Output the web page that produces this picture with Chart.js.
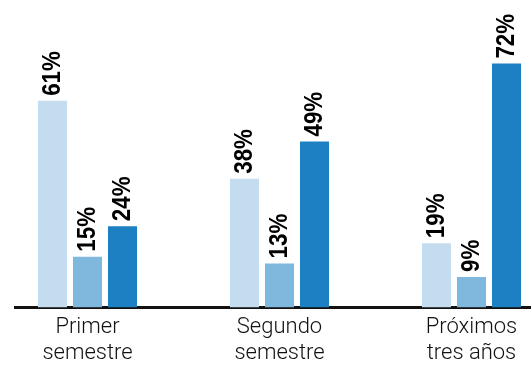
<!DOCTYPE html>
<html>
<head>
<meta charset="utf-8">
<script src="https://cdn.jsdelivr.net/npm/chart.js@4/dist/chart.umd.min.js"></script>
<style>
  html, body { margin: 0; padding: 0; background: #fff; }
  #wrap { width: 531px; height: 370px; position: relative; }
</style>
</head>
<body>
<div id="wrap"><canvas id="myChart"></canvas></div>
<script>
// categories (x axis, two lines each)
const categories = [['Primer', 'semestre'], ['Segundo', 'semestre'], ['Próximos', 'tres años']];

// three series, in percent
const seriesLight = [61, 38, 19];
const seriesMid = [15, 13, 9];
const seriesDark = [24, 49, 72];

// vertical value labels above each bar
const barLabels = {
    id: 'barLabels',
    afterDatasetsDraw(chart) {
        const ctx = chart.ctx;
        ctx.save();
        ctx.fillStyle = '#000';
        ctx.font = 'bold 26px "Liberation Sans", Arial, sans-serif';
        ctx.textAlign = 'left';
        ctx.textBaseline = 'middle';
        chart.data.datasets.forEach((ds, i) => {
            chart.getDatasetMeta(i).data.forEach((bar, j) => {
                ctx.save();
                ctx.translate(bar.x, bar.y - 5);
                ctx.rotate(-Math.PI / 2);
                ctx.scale(0.86, 1);
                ctx.fillText(ds.data[j] + '%', 0, 0);
                ctx.restore();
            });
        });
        ctx.restore();
    }
};

const ctx = document.getElementById('myChart');

new Chart(ctx, {
    type: 'bar',
    data: {
        labels: categories,
        datasets: [
            { data: seriesLight, backgroundColor: '#c3dcef' },
            { data: seriesMid, backgroundColor: '#80b7dd' },
            { data: seriesDark, backgroundColor: '#1c80c3' }
        ]
    },
    options: {
        responsive: true,
        maintainAspectRatio: false,
        animation: false,
        categoryPercentage: 0.547,
        barPercentage: 0.83,
        layout: { padding: { top: 36.5, left: 15, right: 0, bottom: 0 } },
        plugins: {
            legend: { display: false },
            tooltip: { enabled: false }
        },
        scales: {
            x: {
                offset: false,
                grid: { display: false, drawTicks: false },
                border: { display: true, color: '#111', width: 3 },
                ticks: {
                    color: '#111',
                    padding: 7,
                    maxRotation: 0,
                    autoSkip: false,
                    font: { family: 'Roboto', size: 22, weight: 300, lineHeight: '26px' }
                },
                // groups sit off the usual category grid: shift the value mapping
                afterBuildTicks: (scale) => {
                    scale._startValue = -0.3776;
                    scale._valueRange = 2.6875;
                },
                afterFit: (scale) => { scale.height = 62.5; }
            },
            y: {
                display: false,
                min: 0,
                max: 80
            }
        }
    },
    plugins: [barLabels]
});
</script>
</body>
</html>
